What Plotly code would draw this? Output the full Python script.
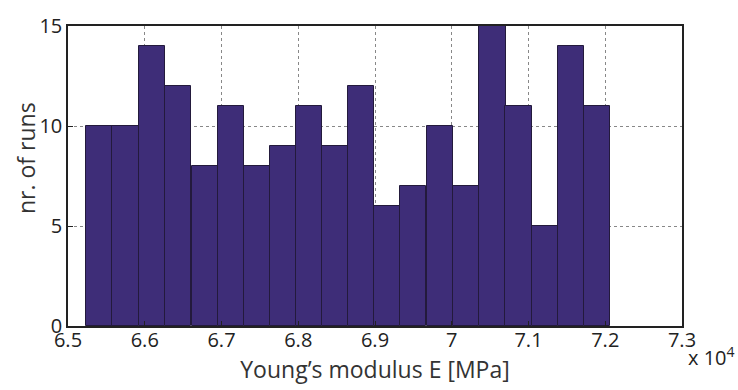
import plotly.graph_objects as go

bin_centers = [6.541, 6.575, 6.609, 6.643, 6.678, 6.712, 6.746, 6.780, 6.814, 6.848,
               6.882, 6.916, 6.950, 6.985, 7.019, 7.053, 7.087, 7.121, 7.155, 7.189]
counts = [10, 10, 14, 12, 8, 11, 8, 9, 11, 9, 12, 6, 7, 10, 7, 15, 11, 5, 14, 11]
bin_width = 0.0341
x_ticks = [6.5, 6.6, 6.7, 6.8, 6.9, 7.0, 7.1, 7.2, 7.3]
x_labels = ["6.5", "6.6", "6.7", "6.8", "6.9", "7", "7.1", "7.2", "7.3"]
y_ticks = [0, 5, 10, 15]

fig = go.Figure(go.Bar(
    x=bin_centers, y=counts, width=bin_width,
    marker=dict(color="#3e2d78", line=dict(color="#231a3c", width=1)),
))

font = "Open Sans, DejaVu Sans, sans-serif"
fig.update_layout(
    width=738, height=390,
    margin=dict(l=68, r=56, t=17, b=64),
    paper_bgcolor="white", plot_bgcolor="white",
    showlegend=False,
    font=dict(family=font, size=20, color="#222"),
    bargap=0,
    xaxis=dict(range=[6.5, 7.3], tickvals=x_ticks, ticktext=x_labels,
               showline=True, mirror=True, linecolor="#222", linewidth=1.5,
               ticks="inside", ticklen=5, tickcolor="#222",
               showgrid=True, gridcolor="#888", griddash="dot", gridwidth=1,
               zeroline=False, ticklabelstandoff=-5,
               title=dict(text="Young’s modulus E [MPa]", font=dict(size=23, color="#333"), standoff=0),
               tickfont=dict(size=20)),
    yaxis=dict(range=[0, 15], tickvals=y_ticks,
               showline=True, mirror=True, linecolor="#222", linewidth=1.5,
               ticks="inside", ticklen=5, tickcolor="#222",
               showgrid=True, gridcolor="#888", griddash="dot", gridwidth=1,
               zeroline=False,
               tickfont=dict(size=20)),
)
fig.add_annotation(x=0, y=0.56, xref="paper", yref="paper",
                   xanchor="center", yanchor="middle", xshift=-42,
                   text="nr. of runs", textangle=-90, showarrow=False,
                   font=dict(family=font, size=23, color="#333"))
fig.add_annotation(x=1.0, y=0, xref="paper", yref="paper",
                   xanchor="left", yanchor="top", xshift=4, yshift=-14,
                   text="x 10<sup>4</sup>", showarrow=False,
                   font=dict(family=font, size=20, color="#222"))
fig.write_html("out.html")
